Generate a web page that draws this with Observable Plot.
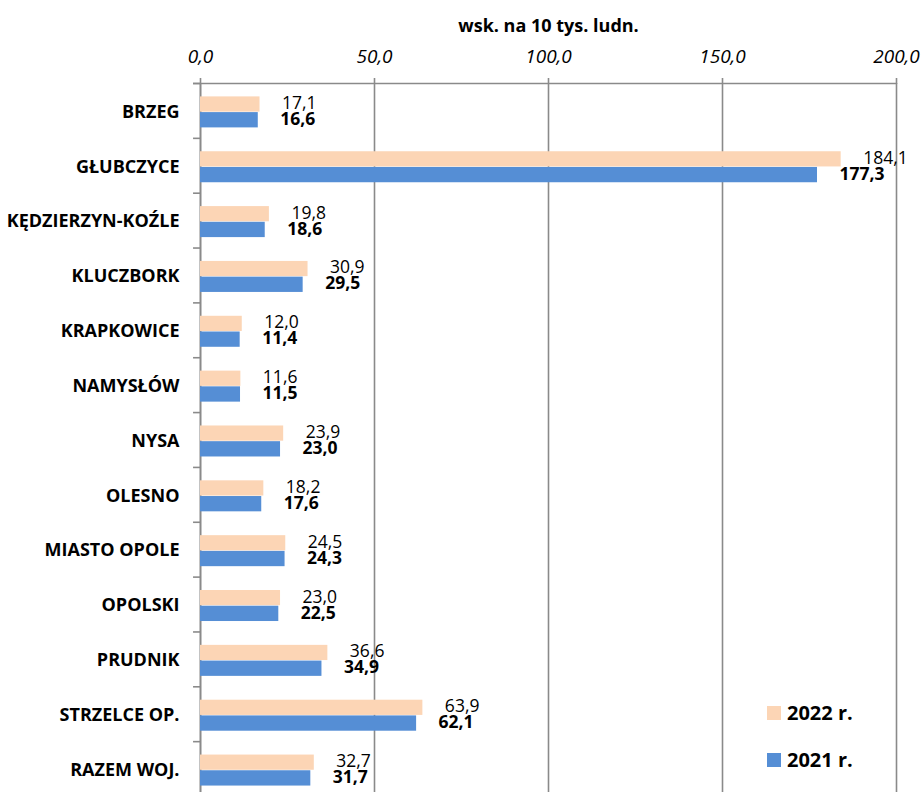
<!DOCTYPE html>
<html>
<head>
<meta charset="utf-8">
<script src="https://cdn.jsdelivr.net/npm/d3@7"></script>
<script src="https://cdn.jsdelivr.net/npm/@observablehq/plot@0.6"></script>
<style>
  html, body { margin: 0; padding: 0; background: #fff; }
  #wrap { position: relative; width: 924px; height: 792px; font-family: "Open Sans", sans-serif; }
  .leg { position: absolute; display: flex; align-items: center; font-weight: bold; font-size: 20px; color: #000; }
  .sw { width: 14px; height: 14px; margin-right: 6px; }
</style>
</head>
<body>
<div id="wrap"></div>
<script>
const title = "wsk. na 10 tys. ludn.";
const categories = ["BRZEG", "GŁUBCZYCE", "KĘDZIERZYN-KOŹLE", "KLUCZBORK", "KRAPKOWICE", "NAMYSŁÓW", "NYSA", "OLESNO", "MIASTO OPOLE", "OPOLSKI", "PRUDNIK", "STRZELCE OP.", "RAZEM WOJ."];
const values2022 = [17.1, 184.1, 19.8, 30.9, 12.0, 11.6, 23.9, 18.2, 24.5, 23.0, 36.6, 63.9, 32.7];
const values2021 = [16.6, 177.3, 18.6, 29.5, 11.4, 11.5, 23.0, 17.6, 24.3, 22.5, 34.9, 62.1, 31.7];
const xTicks = [0, 50, 100, 150, 200];
const seriesNames = ["2022 r.", "2021 r."];
const seriesColors = ["#FCD5B5", "#558ED5"];

const d2022 = categories.map((c, i) => ({cat: c, v: values2022[i]}));
const d2021 = categories.map((c, i) => ({cat: c, v: values2021[i]}));
const fmt = v => v.toFixed(1).replace(".", ",");

const yTop = 83, yBottom = 796;
const band = (yBottom - yTop) / categories.length;
const grid = "#8a8a8a";

const plot = Plot.plot({
  width: 924,
  height: 792,
  marginLeft: 200,
  marginRight: 28,
  marginTop: yTop,
  marginBottom: 0,
  style: {fontFamily: "'Open Sans', sans-serif", color: "#000", background: "#fff", overflow: "visible"},
  x: {domain: [0, 200], axis: null},
  y: {domain: categories, range: [yTop, yBottom], padding: 0, round: false, axis: null},
  marks: [
    Plot.gridX(xTicks, {stroke: grid, strokeOpacity: 1, strokeWidth: 1.6}),
    Plot.axisX(xTicks, {anchor: "top", tickSize: 6, tickPadding: 15, stroke: grid, strokeWidth: 1.6,
      tickFormat: fmt, fontSize: 19, fontStyle: "italic", label: null}),
    Plot.ruleX([0], {stroke: grid, strokeWidth: 1.6}),
    Plot.ruleY(categories, {y: d => d, x1: -2, x2: 0, dy: -band / 2, stroke: grid, strokeWidth: 1.6}),
    Plot.ruleY([categories[0]], {y: d => d, x1: -2, x2: 200, dy: -band / 2, stroke: grid, strokeWidth: 1.6}),
    Plot.barX(d2022, {x: "v", y: "cat", fill: seriesColors[0], insetTop: 13.4, insetBottom: band - 28.6}),
    Plot.barX(d2021, {x: "v", y: "cat", fill: seriesColors[1], insetTop: 29.1, insetBottom: band - 44.4}),
    Plot.text(d2022, {x: "v", y: "cat", text: d => fmt(d.v), textAnchor: "start", lineAnchor: "bottom",
      dx: 22, dy: -2, fontSize: 17.5, fill: "#000"}),
    Plot.text(d2021, {x: "v", y: "cat", text: d => fmt(d.v), textAnchor: "start", lineAnchor: "bottom",
      dx: 22, dy: 14, fontSize: 17.5, fontWeight: "bold", fill: "#000"}),
    Plot.text(categories, {x: 0, y: d => d, text: d => d, textAnchor: "end", lineAnchor: "middle",
      dx: -21, dy: 1, fontSize: 18, fontWeight: "bold", fill: "#000"}),
    Plot.text([title], {frameAnchor: "top", lineAnchor: "bottom", dy: -52, fontSize: 18, fontWeight: "bold", fill: "#000"})
  ]
});

const wrap = document.getElementById("wrap");
wrap.appendChild(plot);

const legTops = [699, 746];
seriesNames.forEach((name, i) => {
  const el = document.createElement("div");
  el.className = "leg";
  el.style.left = "767px";
  el.style.top = legTops[i] + "px";
  const sw = document.createElement("div");
  sw.className = "sw";
  sw.style.background = seriesColors[i];
  el.appendChild(sw);
  const t = document.createElement("span");
  t.textContent = name;
  el.appendChild(t);
  wrap.appendChild(el);
});
</script>
</body>
</html>
